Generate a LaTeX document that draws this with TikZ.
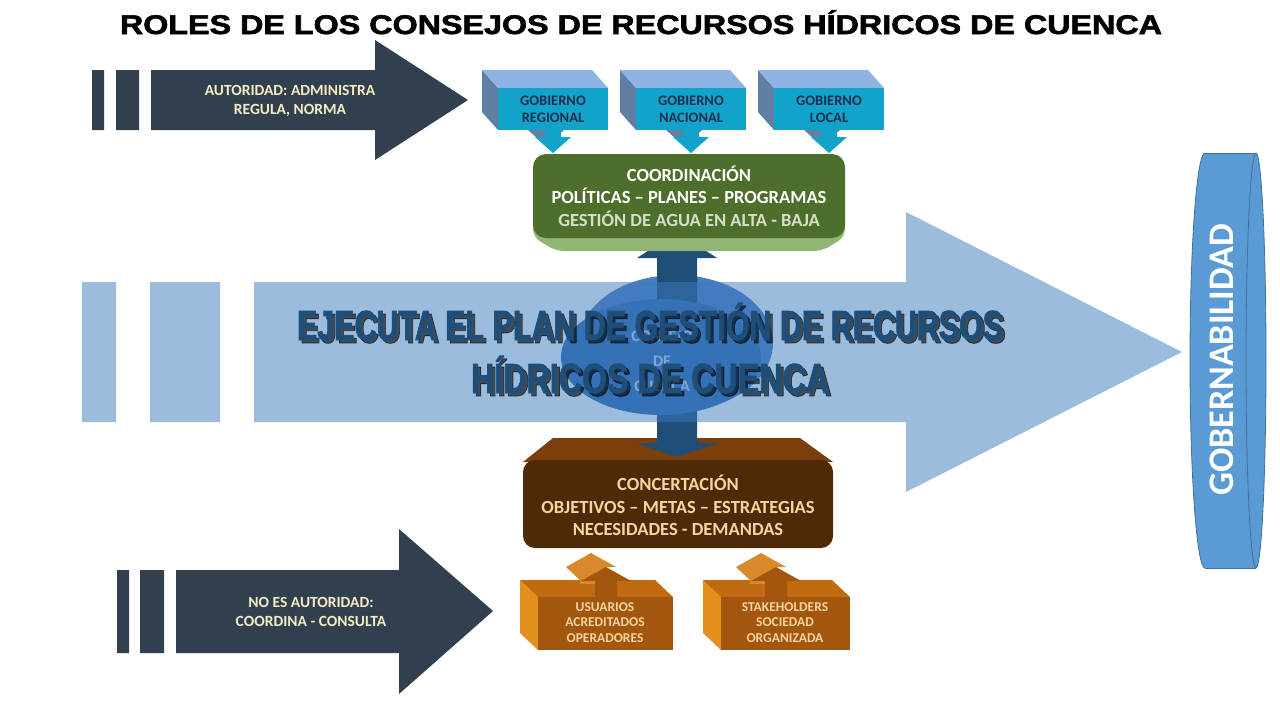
\documentclass[tikz,border=0pt]{standalone}
\usepackage{fontspec}
\usepackage{graphicx}
\setmainfont{Carlito}
\newfontfamily\arialfont{Liberation Sans}[BoldFeatures={FakeBold=2}]
\definecolor{slate}{HTML}{323F4F}
\definecolor{cream}{HTML}{F3EDC0}
\definecolor{boxfront}{HTML}{12A3CB}
\definecolor{boxtop}{HTML}{8DB4E2}
\definecolor{boxside}{HTML}{5F7FA5}
\definecolor{boxtxt}{HTML}{1B2E4D}
\definecolor{greendark}{HTML}{4E6E2B}
\definecolor{greenlight}{HTML}{91B574}
\definecolor{greentxtc}{HTML}{D6DFC9}
\definecolor{browndark}{HTML}{4F2A09}
\definecolor{brownbevel}{HTML}{7A3F0B}
\definecolor{peach}{HTML}{FAD3A0}
\definecolor{orfront}{HTML}{A3560D}
\definecolor{orside}{HTML}{E38F1C}
\definecolor{ortop}{HTML}{C06A12}
\definecolor{orlight}{HTML}{D8892A}
\definecolor{gobfill}{HTML}{5B9BD5}
\definecolor{gobline}{HTML}{41719C}
\definecolor{navy}{HTML}{1F4E79}
\definecolor{bigarrow}{HTML}{3B7BBF}
\definecolor{ellout}{HTML}{4A7DBF}
\definecolor{ellin}{HTML}{2F68AE}
\definecolor{ellt}{HTML}{C5D5EA}
\newcommand{\LineA}{\resizebox{706pt}{\height}{EJECUTA EL PLAN DE GESTIÓN DE RECURSOS}}
\newcommand{\LineB}{\resizebox{358pt}{\height}{HÍDRICOS DE CUENCA}}
\newcommand{\gdown}[1]{%
  \begin{scope}[shift={(#1,0)}]
    \fill[boxside] (-15,118) -- (1,118) -- (1,130) -- (11,130) -- (-7,146) -- (-25,130) -- (-15,130) -- cycle;
    \fill[boxfront] (-8,125) -- (8,125) -- (8,137) -- (18,137) -- (0,153) -- (-18,137) -- (-8,137) -- cycle;
  \end{scope}}
\newcommand{\gbox}[3]{%
  \fill[boxside] (#2,70) -- ({#2+16},88) -- ({#2+16},130) -- (#2,112) -- cycle;
  \fill[boxtop] (#2,70) -- ({#2+110},70) -- ({#2+126},88) -- ({#2+16},88) -- cycle;
  \fill[boxfront] ({#2+16},88) rectangle ({#2+126},130);
  \node[bluetxt] (#1) at ({#2+71},109.5) {#3};}
\newcommand{\obox}[6]{%
  \fill[orside] (#2,580) -- ({#2+18},597) -- ({#2+18},650) -- (#2,633) -- cycle;
  \fill[ortop] (#2,580) -- ({#2+#3},580) -- ({#2+#3+18},597) -- ({#2+18},597) -- cycle;
  \fill[orfront] ({#2+18},597) rectangle ({#2+#3+18},650);
  \begin{scope}[shift={(#5,0)}]
    \fill[orlight] (-26,567) -- (-15,553) -- (10,567) -- (-1,567) -- (-1,584) -- (-26,584) -- cycle;
    \fill[orlight] (-40,567) -- (-15,553) -- (0,567) -- (-25,581) -- cycle;
    \fill[orfront] (-11,598) -- (-11,581) -- (-25,581) -- (0,567) -- (25,581) -- (11,581) -- (11,598) -- cycle;
  \end{scope}
  \node[ortxt] (#1) at (#6,622.5) {#4};}
\tikzset{
  armtxt/.style={font=\bfseries\fontsize{15.5}{19}\selectfont, text=cream, align=center, inner sep=0pt},
  bluetxt/.style={font=\bfseries\fontsize{14.5}{17}\selectfont, text=boxtxt, align=center, inner sep=0pt},
  greentxt/.style={font=\bfseries\fontsize{18.5}{22.5}\selectfont, text=white, align=center, inner sep=0pt},
  browntxt/.style={font=\bfseries\fontsize{18.5}{22.5}\selectfont, text=peach, align=center, inner sep=0pt},
  ortxt/.style={font=\bfseries\fontsize{13.5}{15.8}\selectfont, text=peach, align=center, inner sep=0pt},
  bigtxt/.style={font=\arialfont\bfseries\fontsize{42}{42}\selectfont, inner sep=0pt, anchor=base},
}
\begin{document}
\begin{tikzpicture}[x=1pt,y=-1pt]
\useasboundingbox (0,0) rectangle (1280,721);
\fill[white] (0,0) rectangle (1280,721);

% brown concertation box
\fill[brownbevel] (553,438) -- (800,438) -- (833,462) -- (523,462) -- cycle;
\fill[browndark, rounded corners=12pt] (523,460) rectangle (833,548);
\node[browntxt] (conc) at (678,505.5) {CONCERTACIÓN\\OBJETIVOS – METAS – ESTRATEGIAS\\NECESIDADES - DEMANDAS};

% consejo ellipse (outer), double arrow, inner ellipse
\fill[ellout] (676,343) ellipse [x radius=97, y radius=68];
\fill[navy] (677,232) -- (717,258) -- (697,258) -- (697,443) -- (718,443) -- (677,457) -- (636,443) -- (657,443) -- (657,258) -- (637,258) -- cycle;
\fill[ellin] (661,357) ellipse [x radius=100, y radius=58];
\node[font=\bfseries\fontsize{16}{25}\selectfont, text=ellt, align=center] (consejo) at (662,361) {CONSEJO\\DE\\CUENCA};

% big light blue arrow
\fill[bigarrow, fill opacity=0.5] (82,282) rectangle (116,422) (150,282) rectangle (220,422)
  (254,282) -- (906,282) -- (906,212) -- (1182,352) -- (906,492) -- (906,422) -- (254,422) -- cycle;

% green coordination box
\fill[greenlight, rounded corners=8pt] (533,220) -- (845,220) -- (845,237) -- (822,251) -- (556,251) -- (533,237) -- cycle;
\fill[greendark, rounded corners=13pt] (533,154) rectangle (845,238);
\node[greentxt] (coord) at (689,196) {COORDINACIÓN\\POLÍTICAS – PLANES – PROGRAMAS\\\textcolor{greentxtc}{GESTIÓN DE AGUA EN ALTA - BAJA}};

% government boxes
\gdown{553}
\gdown{691}
\gdown{829}
\gbox{greg}{482}{GOBIERNO\\REGIONAL}
\gbox{gnac}{620}{GOBIERNO\\NACIONAL}
\gbox{gloc}{758}{GOBIERNO\\LOCAL}

% dark arrows
\fill[slate] (92,70) rectangle (104,130) (116,70) rectangle (139,130)
  (151,70) -- (375,70) -- (375,40) -- (468,100) -- (375,160) -- (375,130) -- (151,130) -- cycle;
\node[armtxt] (auth) at (290,100.5) {AUTORIDAD: ADMINISTRA\\REGULA, NORMA};
\fill[slate] (117,570) rectangle (129,653) (140,570) rectangle (164,653)
  (176,570) -- (399,570) -- (399,529) -- (493,611) -- (399,694) -- (399,653) -- (176,653) -- cycle;
\node[armtxt] (noaut) at (311,612) {NO ES AUTORIDAD:\\COORDINA - CONSULTA};

% orange boxes
\obox{usu}{520}{135}{USUARIOS\\ACREDITADOS\\OPERADORES}{606}{605}
\obox{stk}{703}{129}{STAKEHOLDERS\\SOCIEDAD\\ORGANIZADA}{776}{785}

% gobernabilidad disc
\fill[gobfill] (1205,360.5) ellipse [x radius=15, y radius=207.5];
\fill[gobfill] (1205,153) rectangle (1256,568);
\fill[gobfill] (1256,360.5) ellipse [x radius=10, y radius=207.5];
\draw[gobline, line width=0.8pt] (1205,568) arc [start angle=90, end angle=270, x radius=15, y radius=207.5];
\draw[gobline, line width=0.8pt] (1205,153) -- (1256,153) (1205,568) -- (1256,568);
\draw[gobline, line width=0.8pt] (1256,360.5) ellipse [x radius=10, y radius=207.5];
\node[rotate=90, font=\bfseries\fontsize{36}{36}\selectfont, text=white, inner sep=0pt] (gob) at (1222,360) {GOBERNABILIDAD};

% big text with shadow
\node[bigtxt, text=black, opacity=0.6] (ejas) at (653,343) {\LineA};
\node[bigtxt, text=black, opacity=0.6] (ejbs) at (653,396) {\LineB};
\node[bigtxt, text=navy] (eja) at (650,340) {\LineA};
\node[bigtxt, text=navy] (ejb) at (650,393) {\LineB};

% title
\node[font=\arialfont\bfseries\fontsize{27}{27}\selectfont, inner sep=0pt, anchor=base] (title) at (641,34) {\resizebox{1042pt}{\height}{ROLES DE LOS CONSEJOS DE RECURSOS HÍDRICOS DE CUENCA}};
\end{tikzpicture}
\end{document}
